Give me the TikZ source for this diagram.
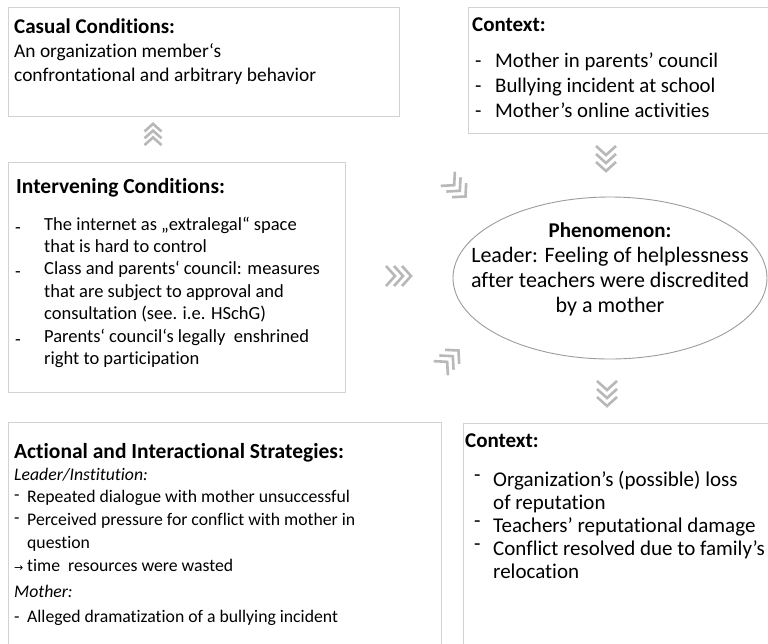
\documentclass[tikz,border=0pt]{standalone}
\usepackage{fontspec}
\setmainfont{Carlito}[Ligatures={NoCommon}]
\newfontfamily\symfont{DejaVu Sans}
\usetikzlibrary{shapes.geometric}
\definecolor{boxline}{HTML}{D2D2D2}
\definecolor{chevgray}{HTML}{B8B8B8}
\definecolor{ellline}{HTML}{9C9C9C}
\newcommand\dsh[2]{\makebox[#1][l]{\raisebox{#2}{-}}}
\tikzset{
  box/.style={draw=boxline, line width=1.2pt, fill=white, inner sep=0pt, anchor=north west},
  txt/.style={anchor=base west, inner sep=0pt, text=black},
  chev/.pic={\foreach \i in {0,1,2}{\draw[chevgray, line width=2.6pt] (-13+\i*8,10) -- (-4+\i*8,0) -- (-13+\i*8,-10);}}
}
\begin{document}
\begin{tikzpicture}[x=1pt,y=-1pt]
\clip (0,0) rectangle (768,643);
\fill[white] (0,0) rectangle (768,643);
% boxes
\node[box, minimum width=391pt, minimum height=109pt] (cc) at (8,7) {};
\node[box, minimum width=310pt, minimum height=126pt] (ctxa) at (468,7) {};
\node[box, minimum width=337pt, minimum height=230pt] (ic) at (8,162) {};
\node[box, minimum width=433pt, minimum height=240pt] (act) at (8,422) {};
\node[box, minimum width=320pt, minimum height=240pt] (ctxb) at (463,423) {};
\node[draw=ellline, line width=0.9pt, ellipse, minimum width=314pt, minimum height=162pt, inner sep=0pt] (ph) at (610,278) {};
% chevrons
\pic[scale=0.85, rotate=90] at (153,134) {chev};
\pic[rotate=-90] at (606,159) {chev};
\pic at (399,276) {chev};
\pic[rotate=-45] at (457,188) {chev};
\pic[rotate=45] at (450,359) {chev};
\pic[rotate=-90] at (607,394) {chev};
% texts
\node[txt] (cctt) at (14,33) {\fontsize{21}{24}\selectfont\bfseries Casual Conditions:};
\node[txt] (cct) at (14,57) {\fontsize{19.4}{24}\selectfont\begin{tabular}[t]{@{}l@{}}An organization member‘s\\confrontational and arbitrary behavior\end{tabular}};
\node[txt] (ctxat) at (472,31) {\fontsize{21}{25}\selectfont\bfseries Context:};
\node[txt] (ctxai) at (475,67) {\fontsize{20.8}{25}\selectfont\begin{tabular}[t]{@{}l@{}}\dsh{20pt}{0pt}Mother in parents’ council\\\dsh{20pt}{0pt}Bullying incident at school\\\dsh{20pt}{0pt}Mother’s online activities\end{tabular}};
\node[txt] (ict) at (16,193) {\fontsize{21.5}{24}\selectfont\bfseries Intervening Conditions:};
\node[txt] (ici) at (15,230) {\fontsize{18.5}{22.4}\selectfont\begin{tabular}[t]{@{}l@{}}\dsh{29pt}{-3pt}The internet as „extralegal“ space\\\hspace*{29pt}that is hard to control\\\dsh{29pt}{-3pt}Class and parents‘ council: measures\\\hspace*{29pt}that are subject to approval and\\\hspace*{29pt}consultation (see. i.e. HSchG)\\\dsh{29pt}{-3pt}Parents‘ council‘s legally~ enshrined\\\hspace*{29pt}right to participation\end{tabular}};
\node[txt, anchor=base] (phtt) at (610,237) {\fontsize{21}{25}\selectfont\bfseries Phenomenon:};
\node[txt, anchor=base] (pht) at (610,262) {\fontsize{22}{25.3}\selectfont\begin{tabular}[t]{@{}c@{}}Leader: Feeling of helplessness\\after teachers were discredited\\by a mother\end{tabular}};
\node[txt] (actt) at (14,458) {\fontsize{21.5}{24}\selectfont\bfseries Actional and Interactional Strategies:};
\node[txt] (acti) at (14,480) {\fontsize{17.7}{22.8}\selectfont\begin{tabular}[t]{@{}l@{}}\itshape Leader/Institution:\\\dsh{13pt}{2pt}Repeated dialogue with mother unsuccessful\\\dsh{13pt}{2pt}Perceived pressure for conflict with mother in\\\hspace*{13pt}question\\\makebox[13pt][l]{\fontsize{11}{11}\symfont →}time~ resources were wasted\\[3pt]\itshape Mother:\\[3pt]\dsh{13pt}{0pt}Alleged dramatization of a bullying incident\end{tabular}};
\node[txt] (ctxbt) at (465,447) {\fontsize{21}{24}\selectfont\bfseries Context:};
\node[txt] (ctxbi) at (474,486) {\fontsize{21}{23}\selectfont\begin{tabular}[t]{@{}l@{}}\dsh{19pt}{5pt}Organization’s (possible) loss\\\hspace*{19pt}of reputation\\\dsh{19pt}{5pt}Teachers’ reputational damage\\\dsh{19pt}{5pt}Conflict resolved due to family’s\\\hspace*{19pt}relocation\end{tabular}};
\end{tikzpicture}
\end{document}
